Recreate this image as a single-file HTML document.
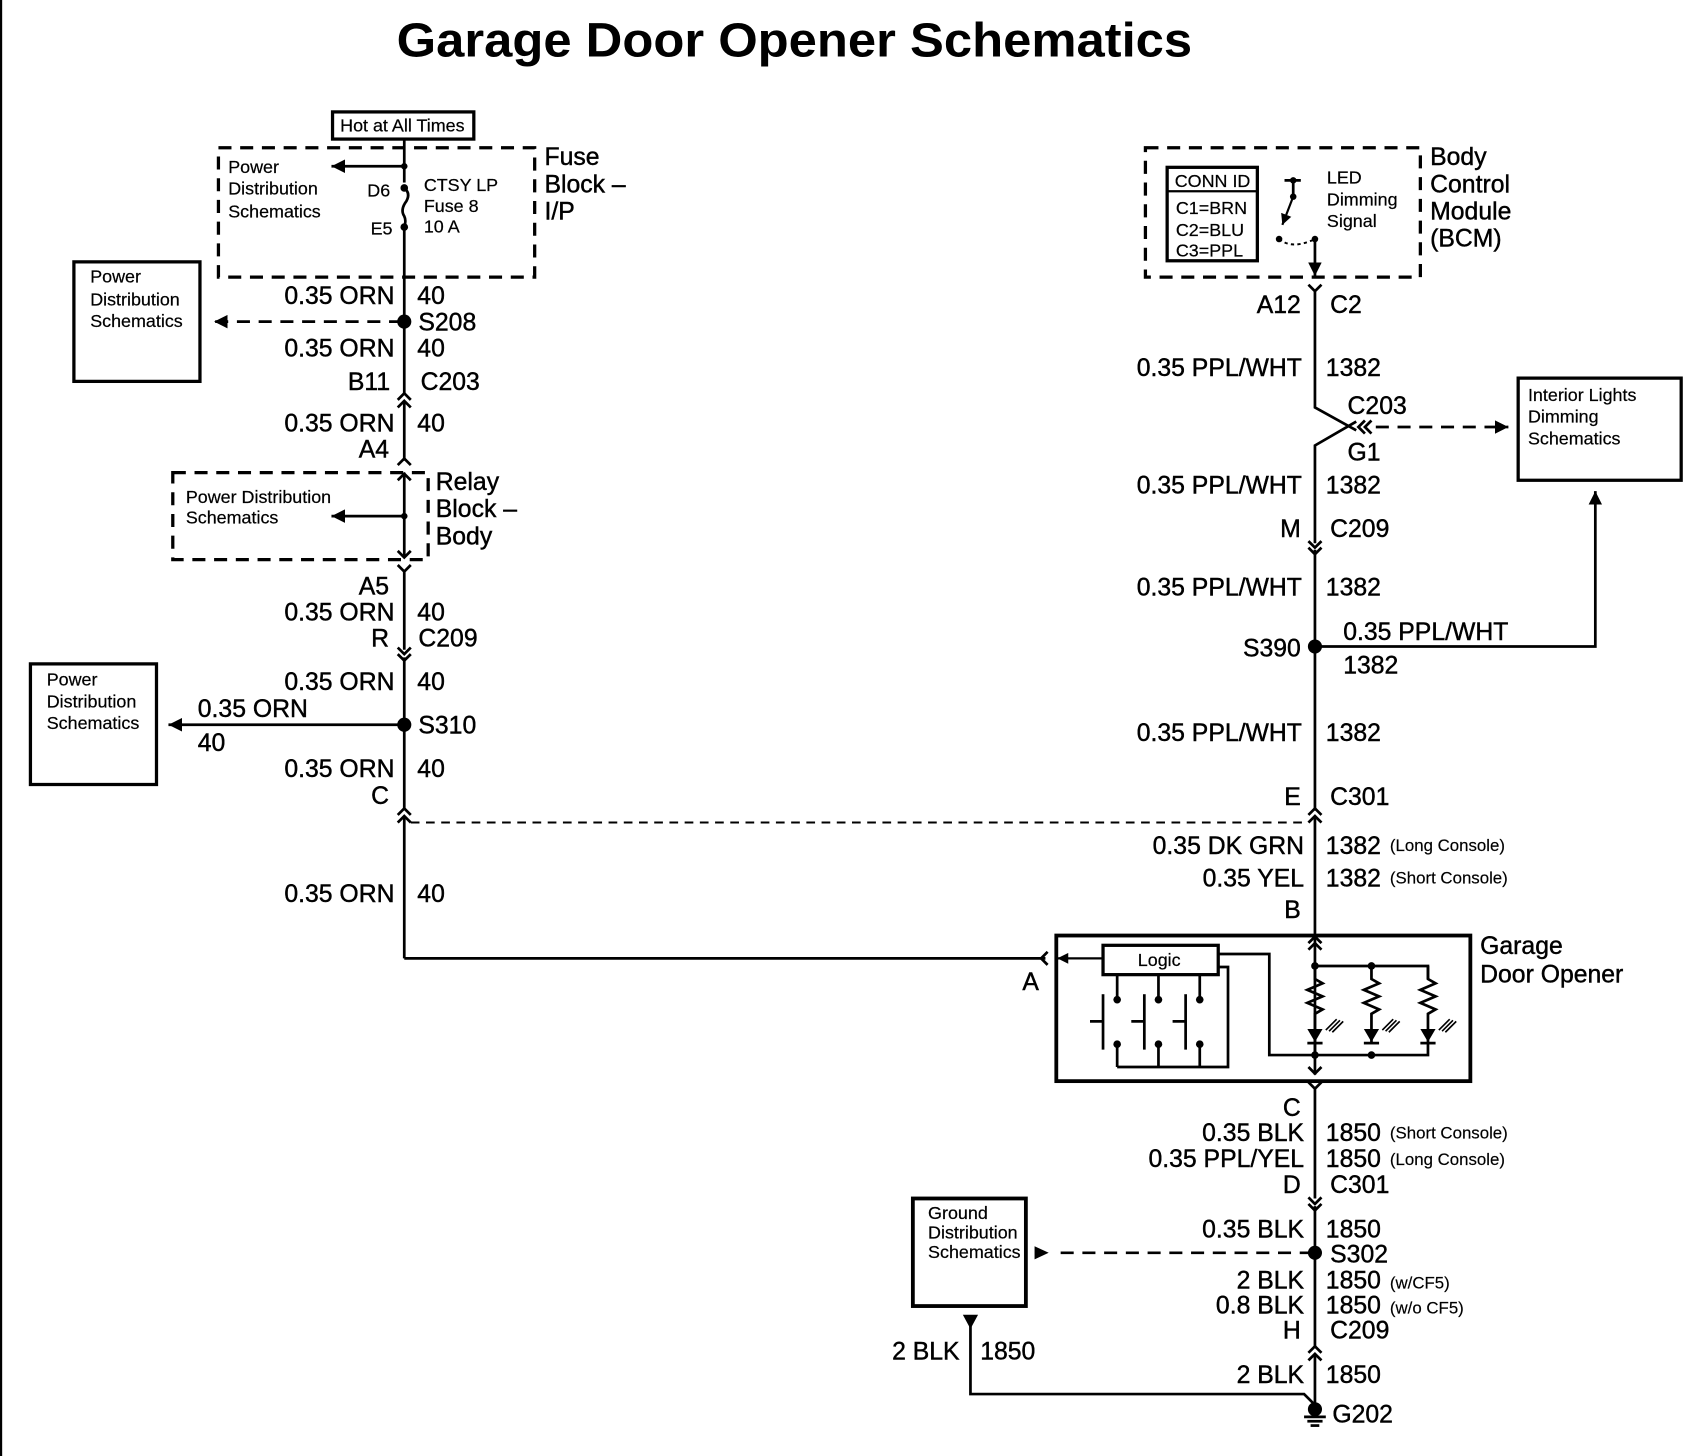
<!DOCTYPE html>
<html><head><meta charset="utf-8"><style>
html,body{margin:0;padding:0;background:#fff;}
svg{display:block;}
text{font-family:"Liberation Sans",Arial,sans-serif;fill:#000;}
.w{font-size:22.8px;stroke:#000;stroke-width:0.4;}
.s{font-size:16.5px;stroke:#000;stroke-width:0.2;}
.x{font-size:15.5px;stroke:#000;stroke-width:0.15;}
.r{text-anchor:end;}
</style></head><body>
<svg width="1704" height="1456" viewBox="0 0 1568 1340" preserveAspectRatio="none" xmlns="http://www.w3.org/2000/svg">
<defs>
<marker id="ah" viewBox="0 0 10 10" refX="10" refY="5" markerWidth="5" markerHeight="5" orient="auto"><path d="M0,0 L10,5 L0,10 z" fill="#000"/></marker>
</defs>
<rect width="1568" height="1340" fill="#fff"/>
<line x1="1" y1="0" x2="1" y2="1340" stroke="#000" stroke-width="2"/>
<text x="365" y="52" font-size="44" font-weight="bold" textLength="732" lengthAdjust="spacingAndGlyphs">Garage Door Opener Schematics</text>

<g fill="none" stroke="#000" stroke-width="2.5">
<rect x="306" y="103" width="130" height="25" stroke-width="3"/>
<rect x="201" y="136" width="291" height="119" stroke-dasharray="12,8" stroke-width="3"/>
<line x1="372" y1="128" x2="372" y2="168"/>
<line x1="372" y1="153" x2="305" y2="153" marker-end="url(#ah)"/>
<path d="M372,173 q6,5 2,12 q-6,8 -2,14 q2,4 0,10"/>
<line x1="372" y1="209" x2="372" y2="362"/>
<rect x="68" y="241" width="116" height="110" stroke-width="3"/>
<line x1="370" y1="296" x2="197" y2="296" stroke-dasharray="12,8" marker-end="url(#ah)"/>
<path d="M366,368 l6,-6 l6,6 M366,375 l6,-6 l6,6"/>
<line x1="372" y1="370" x2="372" y2="424"/>
<path d="M366,428 l6,-6 l6,6"/>
<rect x="159" y="435" width="235" height="80" stroke-dasharray="12,8" stroke-width="3"/>
<line x1="372" y1="435" x2="372" y2="513"/>
<path d="M366,442 l6,-6 l6,6 M366,507 l6,6 l6,-6"/>
<line x1="372" y1="475" x2="305" y2="475" marker-end="url(#ah)"/>
<path d="M366,520 l6,6 l6,-6 M372,526 L372,598"/>
<path d="M366,596 l6,6 l6,-6 M366,602 l6,6 l6,-6"/>
<line x1="372" y1="605" x2="372" y2="744"/>
<line x1="372" y1="667" x2="155" y2="667" marker-end="url(#ah)"/>
<rect x="28" y="611" width="116" height="111" stroke-width="3"/>
<path d="M366,750 l6,-6 l6,6 M366,757 l6,-6 l6,6"/>
<line x1="372" y1="752" x2="372" y2="882"/>
<line x1="378" y1="757" x2="1204" y2="757" stroke-width="1.8" stroke-dasharray="8,6"/>
<polyline points="372,882 962,882"/>
<path d="M964,876 l-6,6 l6,6"/>

<rect x="1054" y="136" width="253" height="119" stroke-dasharray="12,8" stroke-width="3"/>
<rect x="1074" y="154" width="83" height="86" stroke-width="3"/>
<line x1="1074" y1="176" x2="1157" y2="176" stroke-width="2"/>
<line x1="1182" y1="166" x2="1197" y2="166"/>
<line x1="1190" y1="166" x2="1190" y2="181"/>
<line x1="1190" y1="181" x2="1180" y2="207" marker-end="url(#ah)" stroke-width="2"/>
<path d="M1177,220 q12,10 33,0" stroke-dasharray="3,3" stroke-width="1.8"/>
<line x1="1210" y1="220" x2="1210" y2="254" marker-end="url(#ah)"/>
<path d="M1204,262 l6,6 l6,-6 M1210,268 L1210,375 L1248,396 M1248,388 L1210,410 L1210,500"/>
<path d="M1256,387 l-6,6 l6,6 M1262,387 l-6,6 l6,6"/>
<line x1="1266" y1="393" x2="1388" y2="393" stroke-dasharray="12,8" marker-end="url(#ah)"/>
<rect x="1397" y="348" width="150" height="94" stroke-width="3"/>
<path d="M1204,498 l6,6 l6,-6 M1204,504 l6,6 l6,-6"/>
<line x1="1210" y1="506" x2="1210" y2="746"/>
<polyline points="1210,595 1468,595 1468,452" marker-end="url(#ah)"/>
<path d="M1204,750 l6,-6 l6,6 M1204,757 l6,-6 l6,6"/>
<line x1="1210" y1="752" x2="1210" y2="989"/>
<path d="M1204,868 l6,-6 l6,6 M1204,874 l6,-6 l6,6"/>
<rect x="972" y="861" width="381" height="134" stroke-width="3.5"/>
<rect x="1015" y="870" width="106" height="27" stroke-width="3"/>
<line x1="1015" y1="882" x2="973" y2="882" marker-end="url(#ah)" stroke-width="2"/>
<polyline points="1121,878 1168,878 1168,971 1314,971 1314,960"/>
<polyline points="1121,890 1130,890 1130,982 1028,982"/>
<g>
<line x1="1028" y1="897" x2="1028" y2="920"/><line x1="1028" y1="961" x2="1028" y2="982"/>
<line x1="1015" y1="915" x2="1015" y2="966"/><line x1="1003" y1="940" x2="1015" y2="940"/>
<line x1="1066" y1="897" x2="1066" y2="920"/><line x1="1066" y1="961" x2="1066" y2="982"/>
<line x1="1053" y1="915" x2="1053" y2="966"/><line x1="1041" y1="940" x2="1053" y2="940"/>
<line x1="1104" y1="897" x2="1104" y2="920"/><line x1="1104" y1="961" x2="1104" y2="982"/>
<line x1="1091" y1="915" x2="1091" y2="966"/><line x1="1079" y1="940" x2="1091" y2="940"/>
</g>
<polyline points="1210,889 1314,889 1314,901"/>
<g id="led">
<path d="M1210,889 L1210,901 l7,4 l-14,6 l14,6 l-14,6 l14,6 l-7,4 L1210,960"/>
<line x1="1203" y1="960" x2="1217" y2="960"/>
<path d="M1220,948 l10,-10 M1226,950 l10,-10 M1223,949 l10,-10" stroke-width="1.5"/>
</g>
<use href="#led" x="52"/>
<use href="#led" x="104"/>
<line x1="1210" y1="960" x2="1210" y2="971"/>
<path d="M1204,982 l6,6 l6,-6"/>
<path d="M1204,996 l6,6 l6,-6 M1210,1002 L1210,1103"/>
<path d="M1204,1102 l6,6 l6,-6 M1204,1108 l6,6 l6,-6"/>
<line x1="1210" y1="1110" x2="1210" y2="1240"/>
<line x1="1208" y1="1153" x2="970" y2="1153" stroke-dasharray="12,8"/>
<rect x="840" y="1103" width="104" height="99" stroke-width="3.5"/>
<path d="M1204,1245 l6,-6 l6,6 M1204,1252 l6,-6 l6,6"/>
<line x1="1210" y1="1247" x2="1210" y2="1297"/>
<polyline points="893,1220 893,1283 1200,1283 1210,1293"/>
<line x1="1200" y1="1304" x2="1220" y2="1304"/>
<line x1="1203" y1="1308" x2="1217" y2="1308"/>
<line x1="1206" y1="1312" x2="1214" y2="1312"/>
</g>

<g fill="#000">
<circle cx="372" cy="153" r="3"/><circle cx="372" cy="173" r="3.5"/><circle cx="372" cy="209" r="3.5"/>
<circle cx="372" cy="296" r="6.5"/><circle cx="372" cy="475" r="3"/><circle cx="372" cy="667" r="6.5"/>
<circle cx="1190" cy="166" r="3"/><circle cx="1190" cy="181" r="3"/><circle cx="1177" cy="220" r="3"/><circle cx="1210" cy="220" r="3"/>
<circle cx="1210" cy="595" r="6.5"/><circle cx="1210" cy="1153" r="6.5"/><circle cx="1210" cy="1297" r="6.5"/>
<circle cx="1210" cy="889" r="3.5"/><circle cx="1262" cy="889" r="3.5"/><circle cx="1210" cy="971" r="3.5"/><circle cx="1262" cy="971" r="3.5"/>
<circle cx="1028" cy="920" r="3.5"/><circle cx="1028" cy="961" r="3.5"/><circle cx="1066" cy="920" r="3.5"/><circle cx="1066" cy="961" r="3.5"/><circle cx="1104" cy="920" r="3.5"/><circle cx="1104" cy="961" r="3.5"/>
<path d="M1203,947 h14 l-7,12 z"/><path d="M1255,947 h14 l-7,12 z"/><path d="M1307,947 h14 l-7,12 z"/>
<path d="M952,1147 l13,6 l-13,6 z"/>
<path d="M886,1210 h14 l-7,13 z"/>
</g>

<text x="313" y="121" class="s" font-size="15.5">Hot at All Times</text>
<text x="210" y="159" class="s">Power</text><text x="210" y="179" class="s">Distribution</text><text x="210" y="200" class="s">Schematics</text>
<text x="338" y="181" class="s">D6</text><text x="341" y="216" class="s">E5</text>
<text x="390" y="176" class="s">CTSY LP</text><text x="390" y="195" class="s">Fuse 8</text><text x="390" y="214" class="s">10 A</text>
<text x="501" y="152" class="w">Fuse</text><text x="501" y="177" class="w">Block –</text><text x="501" y="202" class="w">I/P</text>
<text x="83" y="260" class="s">Power</text><text x="83" y="281" class="s">Distribution</text><text x="83" y="301" class="s">Schematics</text>
<text x="363" y="280" class="w r">0.35 ORN</text><text x="384" y="280" class="w">40</text>
<text x="385" y="304" class="w">S208</text>
<text x="363" y="328" class="w r">0.35 ORN</text><text x="384" y="328" class="w">40</text>
<text x="359" y="359" class="w r">B11</text><text x="387" y="359" class="w">C203</text>
<text x="363" y="397" class="w r">0.35 ORN</text><text x="384" y="397" class="w">40</text>
<text x="358" y="421" class="w r">A4</text>
<text x="171" y="463" class="s">Power Distribution</text><text x="171" y="482" class="s">Schematics</text>
<text x="401" y="451" class="w">Relay</text><text x="401" y="476" class="w">Block –</text><text x="401" y="501" class="w">Body</text>
<text x="358" y="547" class="w r">A5</text>
<text x="363" y="571" class="w r">0.35 ORN</text><text x="384" y="571" class="w">40</text>
<text x="358" y="595" class="w r">R</text><text x="385" y="595" class="w">C209</text>
<text x="363" y="635" class="w r">0.35 ORN</text><text x="384" y="635" class="w">40</text>
<text x="43" y="631" class="s">Power</text><text x="43" y="651" class="s">Distribution</text><text x="43" y="671" class="s">Schematics</text>
<text x="182" y="660" class="w">0.35 ORN</text><text x="182" y="691" class="w">40</text>
<text x="385" y="675" class="w">S310</text>
<text x="363" y="715" class="w r">0.35 ORN</text><text x="384" y="715" class="w">40</text>
<text x="358" y="740" class="w r">C</text>
<text x="363" y="830" class="w r">0.35 ORN</text><text x="384" y="830" class="w">40</text>
<text x="956" y="911" class="w r">A</text>

<text x="1081" y="172" class="s">CONN ID</text>
<text x="1082" y="197" class="s">C1=BRN</text><text x="1082" y="217" class="s">C2=BLU</text><text x="1082" y="236" class="s">C3=PPL</text>
<text x="1221" y="169" class="s">LED</text><text x="1221" y="189" class="s">Dimming</text><text x="1221" y="209" class="s">Signal</text>
<text x="1316" y="152" class="w">Body</text><text x="1316" y="177" class="w">Control</text><text x="1316" y="202" class="w">Module</text><text x="1316" y="227" class="w">(BCM)</text>
<text x="1197" y="288" class="w r">A12</text><text x="1224" y="288" class="w">C2</text>
<text x="1198" y="346" class="w r">0.35 PPL/WHT</text><text x="1220" y="346" class="w">1382</text>
<text x="1240" y="381" class="w">C203</text><text x="1240" y="424" class="w">G1</text>
<text x="1406" y="369" class="s">Interior Lights</text><text x="1406" y="389" class="s">Dimming</text><text x="1406" y="409" class="s">Schematics</text>
<text x="1198" y="454" class="w r">0.35 PPL/WHT</text><text x="1220" y="454" class="w">1382</text>
<text x="1197" y="494" class="w r">M</text><text x="1224" y="494" class="w">C209</text>
<text x="1198" y="548" class="w r">0.35 PPL/WHT</text><text x="1220" y="548" class="w">1382</text>
<text x="1236" y="589" class="w">0.35 PPL/WHT</text>
<text x="1197" y="604" class="w r">S390</text><text x="1236" y="620" class="w">1382</text>
<text x="1198" y="682" class="w r">0.35 PPL/WHT</text><text x="1220" y="682" class="w">1382</text>
<text x="1197" y="741" class="w r">E</text><text x="1224" y="741" class="w">C301</text>
<text x="1200" y="786" class="w r">0.35 DK GRN</text><text x="1220" y="786" class="w">1382</text><text x="1279" y="783" class="x">(Long Console)</text>
<text x="1200" y="816" class="w r">0.35 YEL</text><text x="1220" y="816" class="w">1382</text><text x="1279" y="813" class="x">(Short Console)</text>
<text x="1197" y="845" class="w r">B</text>
<text x="1047" y="889" class="s">Logic</text>
<text x="1362" y="878" class="w">Garage</text><text x="1362" y="904" class="w">Door Opener</text>
<text x="1197" y="1027" class="w r">C</text>
<text x="1200" y="1050" class="w r">0.35 BLK</text><text x="1220" y="1050" class="w">1850</text><text x="1279" y="1048" class="x">(Short Console)</text>
<text x="1200" y="1074" class="w r">0.35 PPL/YEL</text><text x="1220" y="1074" class="w">1850</text><text x="1279" y="1072" class="x">(Long Console)</text>
<text x="1197" y="1098" class="w r">D</text><text x="1224" y="1098" class="w">C301</text>
<text x="854" y="1122" class="s" font-size="15.5">Ground</text><text x="854" y="1140" class="s" font-size="15.5">Distribution</text><text x="854" y="1158" class="s" font-size="15.5">Schematics</text>
<text x="1200" y="1139" class="w r">0.35 BLK</text><text x="1220" y="1139" class="w">1850</text>
<text x="1224" y="1162" class="w">S302</text>
<text x="1200" y="1186" class="w r">2 BLK</text><text x="1220" y="1186" class="w">1850</text><text x="1279" y="1186" class="x">(w/CF5)</text>
<text x="1200" y="1209" class="w r">0.8 BLK</text><text x="1220" y="1209" class="w">1850</text><text x="1279" y="1209" class="x">(w/o CF5)</text>
<text x="1197" y="1232" class="w r">H</text><text x="1224" y="1232" class="w">C209</text>
<text x="883" y="1251" class="w r">2 BLK</text><text x="902" y="1251" class="w">1850</text>
<text x="1200" y="1273" class="w r">2 BLK</text><text x="1220" y="1273" class="w">1850</text>
<text x="1226" y="1309" class="w">G202</text>
</svg>
</body></html>
